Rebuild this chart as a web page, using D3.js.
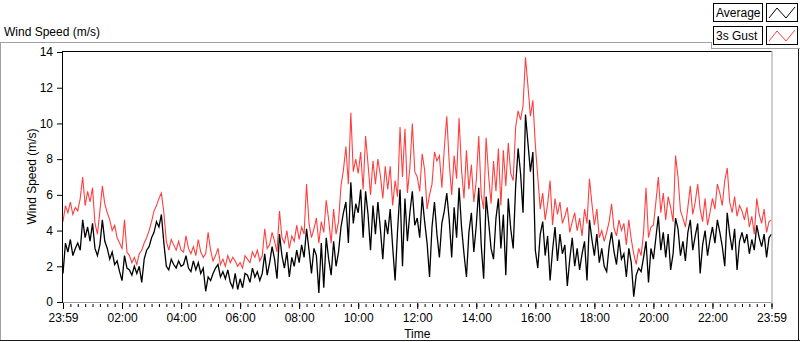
<!DOCTYPE html>
<html>
<head>
<meta charset="utf-8">
<script src="https://cdn.jsdelivr.net/npm/d3@7"></script>
<style>
  body { margin: 0; background: #fff; }
  svg text { font-family: "Liberation Sans", Arial, sans-serif; font-size: 12px; fill: #000; }
</style>
</head>
<body>
<main></main>
<script>
// one reading every 5 minutes, 00:00 -> 24:00 (one row per hour)
const STEP_MIN = 5;

const gustValues = [
  4.5, 5.4, 5.0, 5.6, 4.9, 5.3, 5.1, 5.8, 7.0, 5.4, 6.2, 5.6,
  6.4, 4.4, 3.8, 5.1, 6.5, 5.5, 5.0, 4.6, 4.0, 4.3, 3.6, 3.3,
  3.0, 4.6, 2.8, 2.6, 2.2, 2.5, 2.1, 2.7, 2.9, 3.3, 3.6, 4.0,
  4.5, 5.1, 5.4, 5.8, 6.1, 5.0, 3.4, 2.9, 3.5, 3.2, 2.9, 3.4,
  2.9, 2.8, 3.7, 3.0, 2.7, 3.1, 2.6, 3.5, 2.8, 2.5, 2.7, 3.9,
  2.9, 2.3, 2.6, 3.0, 2.1, 2.4, 2.0, 2.6, 2.2, 2.5, 2.3, 2.0,
  2.2, 1.9, 2.6, 2.4, 2.2, 2.8, 2.5, 2.9, 2.3, 2.6, 4.1, 3.0,
  3.2, 3.9, 3.4, 2.8, 5.1, 3.6, 3.3, 4.0, 3.0, 3.7, 3.4, 4.3,
  3.5, 4.2, 3.8, 6.6, 4.4, 3.6, 4.1, 4.7, 3.3, 4.5, 3.9, 5.7,
  4.6, 3.3, 5.2, 3.8, 4.5, 6.5, 7.4, 8.7, 6.6, 10.6, 7.3, 8.0,
  7.2, 8.4, 6.3, 9.3, 7.7, 6.0, 7.9, 6.6, 8.0, 7.1, 5.8, 7.6,
  6.3, 7.6, 5.4, 6.8, 5.9, 9.8, 7.0, 9.7, 6.1, 7.5, 10.0, 7.3,
  7.0, 6.2, 8.3, 7.4, 5.2, 6.0, 6.6, 8.4, 7.9, 8.2, 6.4, 8.6,
  10.4, 7.8, 6.0, 8.2, 6.9, 10.3, 7.4, 5.8, 8.5, 6.3, 7.7, 5.6,
  6.8, 9.3, 6.0, 5.2, 9.2, 7.1, 5.5, 7.9, 6.2, 8.6, 5.4, 8.5,
  6.5, 8.9, 7.2, 6.8, 9.8, 10.7, 10.2, 11.0, 13.7, 12.1, 10.4, 11.3,
  8.8, 7.0, 5.2, 6.1, 4.6, 5.5, 6.8, 4.3, 5.8, 4.9, 5.6, 4.4,
  4.8, 5.3, 3.9, 4.5, 5.0, 4.0, 4.7, 3.7, 5.2, 4.4, 6.9, 5.5,
  4.3, 5.2, 3.6, 4.0, 3.4, 3.9, 4.5, 5.5, 4.1, 3.7, 4.6, 4.0,
  4.4, 3.2, 4.6, 3.5, 2.7, 2.1, 3.0, 2.6, 3.9, 6.4, 3.6, 4.2,
  4.3, 5.6, 7.0, 5.0, 6.1, 4.6, 5.9, 5.3, 4.5, 8.2, 7.0, 5.1,
  4.7, 4.2, 5.3, 6.5, 4.9, 5.6, 6.6, 5.2, 4.5, 5.8, 4.3, 5.0,
  5.8, 5.2, 6.6, 6.1, 5.4, 6.8, 7.5, 5.6, 5.0, 5.9, 4.8, 5.4,
  5.1, 4.6, 5.3, 4.2, 4.8, 3.8, 5.8, 4.9, 4.4, 5.2, 3.9, 4.5,
  4.6
];

const averageValues = [
  1.6, 3.3, 2.8, 3.5, 2.6, 3.0, 3.3, 2.9, 4.6, 3.6, 4.2, 3.4,
  4.4, 3.0, 2.6, 3.2, 4.6, 3.4, 3.0, 2.4, 2.8, 2.1, 2.3, 1.7,
  1.2, 2.6, 1.9, 1.8, 1.5, 2.0, 1.6, 2.0, 1.1, 2.4, 2.9, 3.1,
  3.6, 3.9, 4.5, 4.2, 4.9, 3.3, 2.0, 1.8, 2.4, 2.1, 1.9, 2.3,
  2.0, 2.1, 2.6, 1.9, 1.7, 2.3, 1.8, 2.2, 1.6, 1.9, 0.6, 1.4,
  1.2, 1.6, 1.9, 2.1, 1.4, 1.7, 1.3, 1.8, 1.1, 0.8, 1.6, 0.7,
  1.3, 0.8, 1.6, 1.5, 1.1, 1.9, 1.4, 1.7, 1.2, 1.6, 2.7, 1.5,
  2.2, 3.1, 2.4, 1.3, 3.8, 2.6, 1.9, 2.8, 1.4, 2.5, 2.0, 2.9,
  2.2, 3.2, 2.5, 4.1, 2.9, 1.6, 3.0, 2.6, 0.5, 3.3, 0.8, 3.6,
  2.4, 1.5, 3.4, 2.0, 2.8, 4.2, 5.0, 5.6, 3.3, 6.7, 4.4, 5.5,
  5.0, 6.3, 3.6, 6.2, 4.9, 2.9, 5.4, 3.8, 5.6, 4.1, 2.4, 4.6,
  3.8, 5.2, 3.1, 1.2, 4.0, 6.3, 2.0, 5.8, 3.4, 5.0, 6.2, 4.3,
  4.7, 3.6, 5.9, 4.5, 3.3, 1.4, 4.2, 5.6, 3.8, 2.5, 4.4, 5.1,
  6.1, 4.6, 2.5, 5.3, 3.6, 6.4, 4.2, 2.7, 1.4, 3.9, 5.0, 2.8,
  4.3, 6.4, 3.2, 1.3, 5.9, 4.5, 3.0, 2.4, 4.7, 5.8, 3.0, 4.9,
  1.5, 5.8, 4.1, 3.0, 6.5, 8.6, 7.2, 5.0, 10.5, 8.9, 7.3, 8.4,
  2.9, 1.9, 3.8, 4.5, 2.6, 3.7, 1.2, 2.9, 4.2, 2.3, 3.8, 2.7,
  3.2, 0.9, 2.4, 3.6, 2.0, 3.0, 1.8, 2.7, 3.4, 1.2, 4.6, 3.5,
  2.6, 3.8, 2.2, 3.0, 2.0, 1.7, 3.1, 3.9, 2.8, 2.1, 3.5, 2.4,
  2.7, 1.4, 3.0, 2.2, 0.3, 1.5, 1.9, 1.7, 2.5, 3.4, 1.1, 3.0,
  2.4, 3.6, 4.8, 2.9, 3.9, 2.5, 3.8, 1.8, 2.7, 4.7, 4.1, 2.6,
  3.4, 2.3, 3.9, 4.6, 2.9, 3.7, 4.4, 1.6, 3.2, 4.0, 2.6, 3.5,
  4.2, 3.3, 4.6, 3.9, 3.1, 2.0, 5.0, 3.8, 2.9, 4.1, 1.8, 3.4,
  3.9, 3.3, 3.8, 2.7, 3.5, 2.9, 4.3, 3.6, 3.1, 3.8, 2.5, 3.6,
  3.8
];

const yTicks = [0, 2, 4, 6, 8, 10, 12, 14];
const xTickMinutes = [0, 120, 240, 360, 480, 600, 720, 840, 960, 1080, 1200, 1320, 1440];
const xTickLabels = ['23:59', '02:00', '04:00', '06:00', '08:00', '10:00', '12:00',
  '14:00', '16:00', '18:00', '20:00', '22:00', '23:59'];
const legendNames = ['Average', '3s Gust'];
const legendColors = ['#000000', '#ff3f3f'];

const W = 800;
const H = 342;
const plot = { left: 63, right: 771.5, top: 51, bottom: 302 };

const $svg = d3.select('main').append('svg')
  .attr('width', W)
  .attr('height', H);

// outer panel
$svg.append('line').attr('x1', 0).attr('x2', 711).attr('y1', 42.5).attr('y2', 42.5).attr('stroke', '#a0a0a0');
$svg.append('line').attr('x1', 0.5).attr('x2', 0.5).attr('y1', 42).attr('y2', 341).attr('stroke', '#a0a0a0');
$svg.append('line').attr('x1', 0).attr('x2', 800).attr('y1', 340.5).attr('y2', 340.5).attr('stroke', '#1a1a1a');
$svg.append('line').attr('x1', 798.5).attr('x2', 798.5).attr('y1', 49).attr('y2', 341).attr('stroke', '#1a1a1a');

$svg.append('text').attr('x', 4).attr('y', 36).text('Wind Speed (m/s)');

const scaleX = d3.scaleLinear().domain([0, 1440]).range([plot.left, plot.right]);
const scaleY = d3.scaleLinear().domain([0, 14]).range([plot.bottom, plot.top + 1]);

// plot frame
const $frame = $svg.append('g');
$frame.append('rect')
  .attr('x', plot.left).attr('y', plot.top)
  .attr('width', plot.right - plot.left).attr('height', plot.bottom - plot.top)
  .attr('fill', '#fff');
$frame.append('line').attr('x1', plot.left).attr('x2', plot.right).attr('y1', plot.bottom + 0.5).attr('y2', plot.bottom + 0.5).attr('stroke', '#a0a0a0');
$frame.append('line').attr('x1', plot.right + 0.5).attr('x2', plot.right + 0.5).attr('y1', plot.top).attr('y2', plot.bottom + 1).attr('stroke', '#a0a0a0');
$frame.append('line').attr('x1', plot.left - 0.5).attr('x2', plot.right).attr('y1', plot.top + 0.5).attr('y2', plot.top + 0.5).attr('stroke', '#000');
$frame.append('line').attr('x1', plot.left - 0.5).attr('x2', plot.left - 0.5).attr('y1', plot.top).attr('y2', plot.bottom + 1).attr('stroke', '#000');

// axes
const axisY = d3.axisLeft(scaleY).tickValues(yTicks).tickSize(5).tickPadding(4);
const $axisY = $svg.append('g')
  .attr('transform', `translate(${plot.left - 1}, 0)`)
  .call(axisY);
$axisY.select('.domain').remove();
$axisY.selectAll('text').style('font-size', '12px').attr('font-family', null);
$axisY.selectAll('line').attr('stroke', '#000');

const axisXMinor = d3.axisBottom(scaleX).tickValues(d3.range(0, 1441, 15)).tickSize(3).tickFormat('');
const $axisXMinor = $svg.append('g')
  .attr('transform', `translate(0, ${plot.bottom + 2})`)
  .call(axisXMinor);
$axisXMinor.select('.domain').remove();
$axisXMinor.selectAll('line').attr('stroke', '#000');

const axisX = d3.axisBottom(scaleX)
  .tickValues(xTickMinutes)
  .tickSize(6)
  .tickPadding(4)
  .tickFormat((d, i) => xTickLabels[i]);
const $axisX = $svg.append('g')
  .attr('transform', `translate(0, ${plot.bottom + 1})`)
  .call(axisX);
$axisX.select('.domain').remove();
$axisX.selectAll('line').attr('stroke', '#000');
$axisX.selectAll('text').style('font-size', '12px').attr('font-family', null);

$svg.append('text')
  .attr('x', (plot.left + plot.right) / 2)
  .attr('y', 338)
  .attr('text-anchor', 'middle')
  .text('Time');

$svg.append('text')
  .attr('transform', `translate(36, ${(plot.top + plot.bottom) / 2}) rotate(-90)`)
  .attr('text-anchor', 'middle')
  .text('Wind Speed (m/s)');

// lines
$svg.append('clipPath').attr('id', 'plot-clip')
  .append('rect')
  .attr('x', plot.left).attr('y', plot.top + 1)
  .attr('width', plot.right - plot.left).attr('height', plot.bottom - plot.top);

const line = d3.line()
  .x((d, i) => scaleX(i * STEP_MIN))
  .y(d => scaleY(d));

const $vis = $svg.append('g').attr('clip-path', 'url(#plot-clip)');
$vis.append('path')
  .datum(gustValues)
  .attr('d', line)
  .attr('fill', 'none')
  .attr('stroke', legendColors[1])
  .attr('stroke-width', 1.1);
$vis.append('path')
  .datum(averageValues)
  .attr('d', line)
  .attr('fill', 'none')
  .attr('stroke', legendColors[0])
  .attr('stroke-width', 1.3);

// legend
const $legend = $svg.append('g');
$legend.append('rect').attr('x', 711).attr('y', 0).attr('width', 89).attr('height', 49).attr('fill', '#fff');
$legend.append('line').attr('x1', 711.5).attr('x2', 711.5).attr('y1', 42).attr('y2', 49).attr('stroke', '#a0a0a0');
$legend.append('line').attr('x1', 711).attr('x2', 800).attr('y1', 48.5).attr('y2', 48.5).attr('stroke', '#a0a0a0');

const $item = $legend.selectAll('.g-item')
  .data(legendNames)
  .enter()
  .append('g')
  .attr('class', 'g-item')
  .attr('transform', (d, i) => `translate(0, ${3 + i * 23})`);

$item.append('rect')
  .attr('x', 713.5).attr('y', 0.5).attr('width', 49).attr('height', 18)
  .attr('fill', '#fff').attr('stroke', '#000');
$item.append('text').attr('x', 716).attr('y', 14).text(d => d);
$item.append('rect')
  .attr('x', 766.5).attr('y', 0.5).attr('width', 31).attr('height', 18)
  .attr('fill', '#fff').attr('stroke', '#000');
$item.append('path')
  .attr('d', 'M769,15 L777,5 L786,15 L795,4')
  .attr('fill', 'none')
  .attr('stroke', (d, i) => legendColors[i]);
</script>
</body>
</html>
